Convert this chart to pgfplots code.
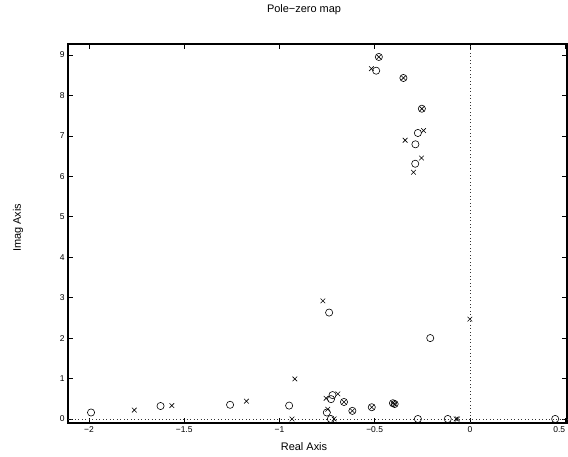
\documentclass[border=0pt]{standalone}
\usepackage{pgfplots}
\pgfplotsset{compat=1.18}
\usepackage{fontspec}
\setmainfont{Liberation Sans}

% poles and zeros
\pgfplotstableread{
re im
-0.517 8.66
-0.478 8.95
-0.349 8.43
-0.252 7.67
-0.243 7.13
-0.340 6.89
-0.254 6.45
-0.296 6.10
-0.772 2.92
0.000 2.47
-0.919 0.99
-1.762 0.22
-1.565 0.33
-1.173 0.44
-0.934 0.00
-0.755 0.51
-0.693 0.62
-0.661 0.42
-0.617 0.20
-0.515 0.29
-0.404 0.39
-0.395 0.37
-0.746 0.24
-0.713 0.00
-0.072 0.00
-0.065 0.00
}\poles
\pgfplotstableread{
re im
-0.478 8.95
-0.492 8.61
-0.349 8.43
-0.252 7.67
-0.273 7.07
-0.286 6.79
-0.287 6.31
-0.739 2.63
-0.208 2.00
-1.989 0.16
-1.624 0.32
-1.259 0.35
-0.949 0.33
-0.729 0.49
-0.721 0.59
-0.661 0.42
-0.617 0.20
-0.515 0.29
-0.404 0.39
-0.395 0.37
-0.751 0.16
-0.730 0.00
-0.273 0.00
-0.116 0.00
0.448 0.00
}\zeros

\begin{document}
\begin{tikzpicture}
\begin{axis}[
    name=ax,
    scale only axis,
    width=499bp, height=379bp,
    xmin=-2.11, xmax=0.51,
    ymin=-0.1, ymax=9.27,
    xtick={-2,-1.5,-1,-0.5,0,0.5},
    xticklabels={−2,−1.5,−1,−0.5,0,{\makebox[0pt][r]{0.5}}},
    ytick={0,1,...,9},
    tick align=inside,
    major tick length=5bp,
    axis line style={line width=1.2pt},
    tick style={black, line width=0.5pt},
    tick label style={font=\fontsize{8.5}{10}\selectfont},
    /pgf/number format/assume math mode=true,
    xlabel={Real Axis},
    ylabel={Imag Axis},
    label style={font=\fontsize{11}{13}\selectfont},
    xlabel style={at={(axis description cs:0.473,-0.063)}, anchor=center},
    ylabel style={at={(axis description cs:-0.100,0.515)}, anchor=center},
    title={Pole−zero map},
    title style={font=\fontsize{11}{13}\selectfont, at={(axis description cs:0.473,1.074)}, anchor=center},
    clip=false,
]
\addplot[black!80, line width=0.6pt, dash pattern=on 0.7pt off 2.8pt] coordinates {(0,-0.1) (0,9.27)};
\addplot[black!80, line width=0.6pt, dash pattern=on 0.7pt off 2.8pt] coordinates {(-2.11,0) (0.51,0)};
\addplot[only marks, mark=x, mark size=3.3bp, black, line width=0.6pt] table[x=re, y=im] {\poles};
\addplot[only marks, mark=o, mark size=3.6bp, black, line width=0.6pt] table[x=re, y=im] {\zeros};
\end{axis}
\pgfresetboundingbox
\path[use as bounding box] ([xshift=-68bp,yshift=-33bp]ax.south west) rectangle ([xshift=1bp,yshift=44bp]ax.north east);
\end{tikzpicture}
\end{document}
